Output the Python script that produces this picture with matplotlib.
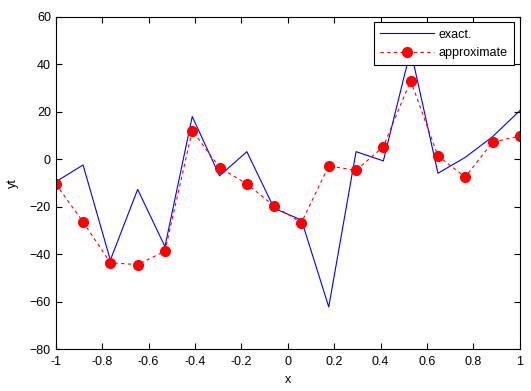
import numpy as np
import matplotlib
matplotlib.use("Agg")
import matplotlib.pyplot as plt

plt.rcParams['font.family'] = ['Liberation Sans', 'DejaVu Sans']

x = np.linspace(-1, 1, 18)
exact = [-9.5, -2.4, -42.5, -12.7, -36.8, 18.0, -7.0, 3.2, -20.7, -25.6,
         -62.2, 3.2, -0.7, 46.0, -5.9, 0.8, 9.5, 20.5]
approx = [-10.4, -26.4, -43.6, -44.4, -38.7, 12.1, -3.5, -10.4, -19.7, -26.7,
          -2.8, -4.7, 5.3, 33.1, 1.4, -7.5, 7.2, 9.8]
xticks = [-1, -0.8, -0.6, -0.4, -0.2, 0, 0.2, 0.4, 0.6, 0.8, 1]
xticklabels = ['-1', '-0.8', '-0.6', '-0.4', '-0.2', '0', '0.2', '0.4', '0.6', '0.8', '1']
yticks = [-80, -60, -40, -20, 0, 20, 40, 60]

fig = plt.figure(figsize=(5.31, 3.91), dpi=100)
ax = fig.add_axes([0.105, 0.107, 0.874, 0.850])
ax.plot(x, exact, color='blue', lw=0.8, label='exact.')
ax.plot(x, approx, color='red', lw=0.8, ls=(0, (3, 3)), marker='o', ms=7,
        markeredgecolor='red', markerfacecolor='red', label='approximate')
ax.set_xlim(-1, 1)
ax.set_ylim(-80, 60)
ax.set_xticks(xticks)
ax.set_xticklabels(xticklabels)
ax.set_yticks(yticks)
ax.tick_params(direction='in', top=True, right=True, labelsize=9, length=4, width=0.8)
ax.tick_params(axis='x', pad=5)
for s in ax.spines.values():
    s.set_linewidth(0.8)
ax.set_xlabel('x', fontsize=9, labelpad=4)
ax.set_ylabel('yt', fontsize=9, labelpad=8)
leg = ax.legend(loc='upper right', fontsize=9, frameon=True, fancybox=False,
                edgecolor='black', framealpha=1, borderaxespad=0.45,
                handlelength=4.3, borderpad=0.5, labelspacing=0.5,
                handletextpad=0.4)
leg.get_frame().set_linewidth(0.8)
fig.savefig('out.png', dpi=100)
